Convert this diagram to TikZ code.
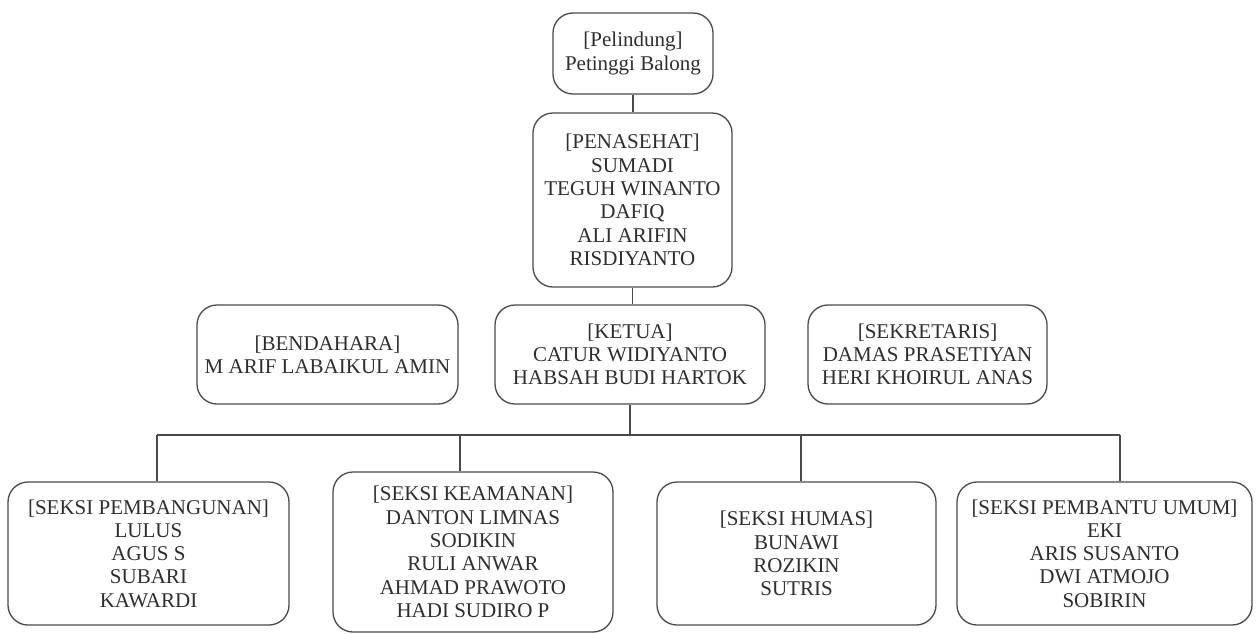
\documentclass[tikz,border=0pt]{standalone}
\usepackage{fontspec}
\setmainfont{Liberation Serif}
\definecolor{linec}{HTML}{4A4A4A}
\definecolor{textc}{HTML}{2E2E2E}
\begin{document}
\begin{tikzpicture}[x=1pt,y=-1pt,
  box/.style={draw=linec, line width=1.3pt, rounded corners=20pt, align=center,
    inner sep=0pt, text=textc, font=\fontsize{21}{23.3}\selectfont},
  conn/.style={draw=linec, line width=1.3pt}]
\useasboundingbox (0,0) rectangle (1259,633);

\node[box, minimum width=160pt, minimum height=81pt] (pel) at (633,53.5)
  {[Pelindung]\\Petinggi Balong};
\node[box, minimum width=199pt, minimum height=174pt] (pen) at (632.5,200)
  {[PENASEHAT]\\SUMADI\\TEGUH WINANTO\\DAFIQ\\ALI ARIFIN\\RISDIYANTO};
\node[box, minimum width=261pt, minimum height=99pt] (ben) at (327.5,354.5)
  {[BENDAHARA]\\M ARIF LABAIKUL AMIN};
\node[box, minimum width=270pt, minimum height=99pt] (ket) at (630,354.5)
  {[KETUA]\\CATUR WIDIYANTO\\HABSAH BUDI HARTOK};
\node[box, minimum width=239pt, minimum height=99pt] (sek) at (927.5,354.5)
  {[SEKRETARIS]\\DAMAS PRASETIYAN\\HERI KHOIRUL ANAS};
\node[box, minimum width=281pt, minimum height=143pt] (pemb) at (148.5,553.5)
  {[SEKSI PEMBANGUNAN]\\LULUS\\AGUS S\\SUBARI\\KAWARDI};
\node[box, minimum width=280pt, minimum height=160pt] (kea) at (473,552)
  {[SEKSI KEAMANAN]\\DANTON LIMNAS\\SODIKIN\\RULI ANWAR\\AHMAD PRAWOTO\\HADI SUDIRO P};
\node[box, minimum width=279pt, minimum height=143pt] (hum) at (796.5,553.5)
  {[SEKSI HUMAS]\\BUNAWI\\ROZIKIN\\SUTRIS};
\node[box, minimum width=295pt, minimum height=143pt] (umum) at (1104.5,553.5)
  {[SEKSI PEMBANTU UMUM]\\EKI\\ARIS SUSANTO\\DWI ATMOJO\\SOBIRIN};

\coordinate (bus) at (630,435);
\coordinate (b1) at (157,435);
\coordinate (b2) at (460,435);
\coordinate (b3) at (801,435);
\coordinate (b4) at (1120,435);

\draw[conn] (pel.south) -- (pel.south |- pen.north);
\draw[conn] (pen.south) -- (pen.south |- ket.north);
\draw[conn] (ket.south) -- (bus);
\draw[conn] (b1) -- (b4);
\draw[conn] (b1) -- (b1 |- pemb.north);
\draw[conn] (b2) -- (b2 |- kea.north);
\draw[conn] (b3) -- (b3 |- hum.north);
\draw[conn] (b4) -- (b4 |- umum.north);
\end{tikzpicture}
\end{document}
